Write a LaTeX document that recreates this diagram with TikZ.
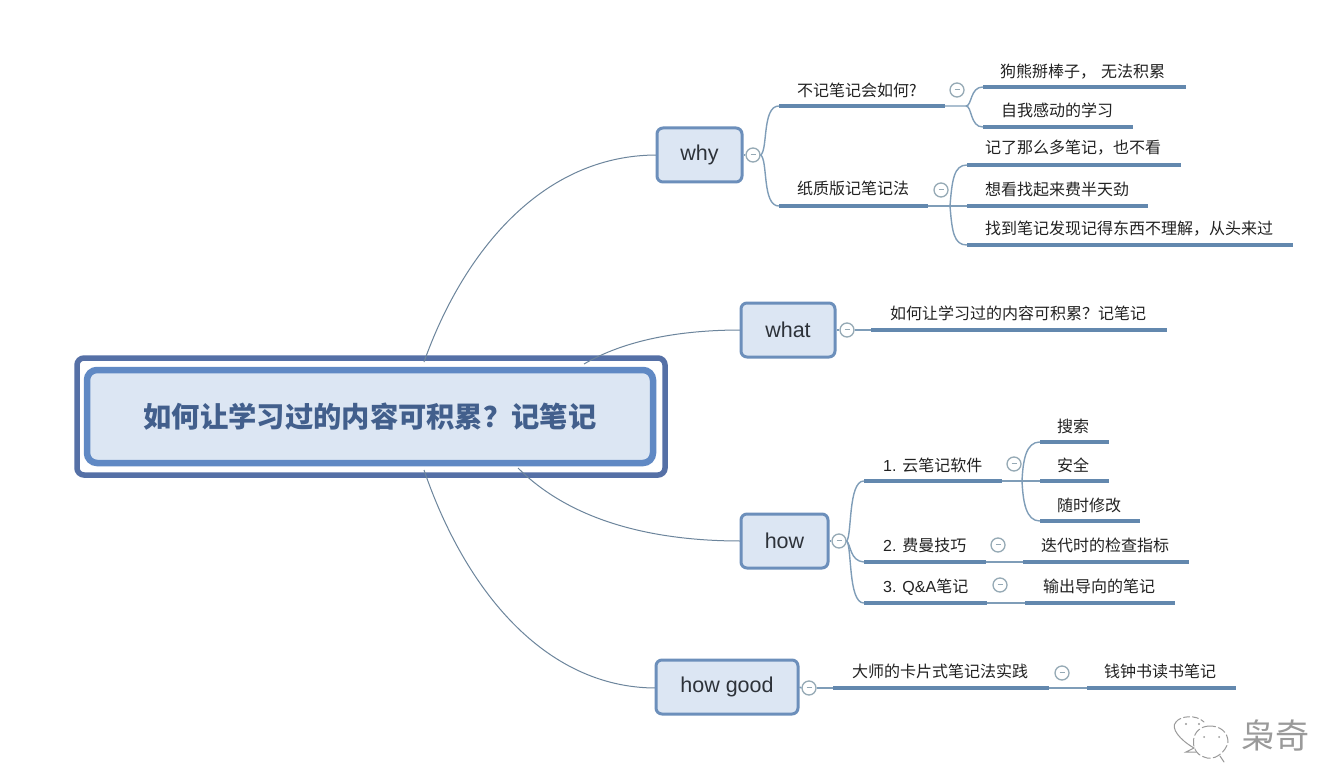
\documentclass[tikz,border=0pt]{standalone}
\usepackage{fontspec}
\setmainfont{Noto Sans CJK SC}
\newfontfamily\latinf{Liberation Sans}
\definecolor{barc}{HTML}{6388AE}
\definecolor{thinc}{HTML}{7F9DB8}
\definecolor{boxs}{HTML}{6C8FBB}
\definecolor{boxf}{HTML}{DCE6F3}
\definecolor{outerc}{HTML}{5570A6}
\definecolor{innerc}{HTML}{6089C4}
\definecolor{titlec}{HTML}{425F8C}
\definecolor{ringc}{HTML}{95A9B5}
\definecolor{inkc}{HTML}{222222}
\definecolor{wmc}{HTML}{9A9A9A}
\tikzset{
  x=1pt,y=-1pt,
  ulbar/.style={draw=none,fill=barc,rectangle,inner sep=0pt,minimum height=4pt},
  lbl/.style={inner sep=0pt,anchor=west,text=inkc,font=\fontsize{16}{18}\selectfont},
  ring/.style={circle,draw=ringc,line width=1.3pt,fill=white,inner sep=0pt,minimum size=14pt,text=ringc,font=\fontsize{6}{6}\selectfont},
  thinline/.style={draw=thinc,line width=1.4pt},
  rootline/.style={draw=thinc!85!black,line width=1pt},
  topicbox/.style={rectangle,rounded corners=6pt,draw=boxs,line width=3pt,fill=boxf,inner sep=0pt,text=inkc!85!boxs,font=\latinf\fontsize{21.5}{24}\selectfont},
  outerbox/.style={rectangle,rounded corners=7pt,draw=outerc,line width=5.5pt,fill=white,inner sep=0pt},
  rootbox/.style={rectangle,rounded corners=10pt,draw=innerc,line width=6.5pt,fill=boxf,inner sep=0pt,text=titlec,font=\bfseries\fontsize{28.3}{32}\selectfont}
}
\newcommand\topicbar[7]{%
  \node[ulbar,minimum width={(#3-#2)*1pt}] (#1) at ({(#2+#3)/2},#4) {};
  \node[lbl] (#1t) at (#5,{#6+0.8}) {#7};}
\newcommand\ringnode[3]{\node[ring] (#1) at (#2,#3) {\rule[0.55ex]{5pt}{0.8pt}};}
\newcommand\mainbox[6]{\node[topicbox,minimum width={(#3-#2)*1pt},minimum height={(#5-#4)*1pt}] (#1) at ({(#2+#3)/2},{(#4+#5)/2}) {\raisebox{-1.5pt}{#6}};}
\begin{document}
\begin{tikzpicture}
\useasboundingbox (0,0) rectangle (1340,778);
\fill[white] (0,0) rectangle (1340,778);

% root connectors (drawn first, the root covers their ends)
\coordinate (whyin) at (657,155);
\coordinate (whatin) at (741,330);
\coordinate (howin) at (741,541);
\coordinate (goodin) at (656,688);

\node[outerbox,minimum width=588pt,minimum height=117pt] (outer) at (371,416.5) {};
\draw[rootline] (424,362) .. controls (462,255) and (540,155) .. (whyin);
\draw[rootline] (584,364) .. controls (625,340) and (680,330) .. (whatin);
\draw[rootline] (518,468) .. controls (570,520) and (650,541) .. (howin);
\draw[rootline] (424,470) .. controls (465,590) and (545,688) .. (goodin);
\node[rootbox,minimum width=566pt,minimum height=93pt] (root) at (370,416.5) {如何让学习过的内容可积累？记笔记};

% main topics
\mainbox{why}{657}{742}{128}{182}{why}
\mainbox{what}{741}{835}{303}{357}{what}
\mainbox{how}{741}{828}{514}{568}{how}
\mainbox{good}{656}{798}{660}{714}{how good}

% why
\topicbar{a}{779}{945}{106}{797}{90}{不记笔记会如何?}
\topicbar{b}{779}{928}{206}{797}{188}{纸质版记笔记法}
\topicbar{a1}{983}{1186}{87}{1000}{71}{狗熊掰棒子，\hspace{5pt}无法积累}
\topicbar{a2}{983}{1133}{127}{1001}{110}{自我感动的学习}
\topicbar{b1}{967}{1181}{165}{985}{147}{记了那么多笔记，也不看}
\topicbar{b2}{967}{1148}{206}{985}{189}{想看找起来费半天劲}
\topicbar{b3}{967}{1293}{245}{985}{228}{找到笔记发现记得东西不理解，从头来过}
\ringnode{rwhy}{753}{155}
\ringnode{ra}{957}{90}
\ringnode{rb}{941}{190}
\draw[thinline] (why.east) -- (rwhy.west);
\draw[thinline] (rwhy.east) .. controls (768,150) and (762,106) .. (a.west);
\draw[thinline] (rwhy.east) .. controls (768,160) and (762,206) .. (b.west);
\draw[thinline] (a.east) -- (966,106) .. controls (972,106) and (970,87) .. (a1.west);
\draw[thinline] (966,106) .. controls (972,106) and (970,127) .. (a2.west);
\draw[thinline] (b.east) -- (b2.west);
\draw[thinline] (950,206) .. controls (952,180) and (954,165) .. (b1.west);
\draw[thinline] (950,206) .. controls (952,232) and (954,245) .. (b3.west);

% what
\topicbar{w1}{871}{1167}{330}{890}{313}{如何让学习过的内容可积累？记笔记}
\ringnode{rwhat}{847}{330}
\draw[thinline] (what.east) -- (rwhat.west);
\draw[thinline] (rwhat.east) -- (w1.west);

% how
\topicbar{h1}{864}{1002}{481}{883}{465}{{\latinf 1. }云笔记软件}
\topicbar{h2}{864}{986}{562}{883}{545}{{\latinf 2. }费曼技巧}
\topicbar{h3}{864}{987}{603}{883}{586}{{\latinf 3. Q\&A}笔记}
\topicbar{s1}{1040}{1109}{442}{1057}{426}{搜索}
\topicbar{s2}{1040}{1109}{481}{1057}{465}{安全}
\topicbar{s3}{1040}{1140}{521}{1057}{505}{随时修改}
\topicbar{t1}{1023}{1189}{562}{1041}{545}{迭代时的检查指标}
\topicbar{u1}{1025}{1175}{603}{1043}{586}{输出导向的笔记}
\ringnode{rhow}{839}{541}
\ringnode{rh1}{1014}{464}
\ringnode{rh2}{998}{545}
\ringnode{rh3}{1000}{585}
\draw[thinline] (how.east) -- (rhow.west);
\draw[thinline] (rhow.east) .. controls (852,536) and (848,481) .. (h1.west);
\draw[thinline] (rhow.east) .. controls (851,545) and (850,561) .. (h2.west);
\draw[thinline] (rhow.east) .. controls (852,546) and (848,603) .. (h3.west);
\draw[thinline] (h1.east) -- (s2.west);
\draw[thinline] (1022,481) .. controls (1023,460) and (1026,442) .. (s1.west);
\draw[thinline] (1022,481) .. controls (1023,502) and (1026,521) .. (s3.west);
\draw[thinline] (h2.east) -- (t1.west);
\draw[thinline] (h3.east) -- (u1.west);

% how good
\topicbar{g1}{833}{1049}{688}{852}{671}{大师的卡片式笔记法实践}
\topicbar{g2}{1087}{1236}{688}{1104}{671}{钱钟书读书笔记}
\ringnode{rgood}{809}{688}
\ringnode{rg1}{1062}{673}
\draw[thinline] (good.east) -- (rgood.west);
\draw[thinline] (rgood.east) -- (g1.west);
\draw[thinline] (g1.east) -- (g2.west);

% watermark
\begin{scope}[draw=wmc,line width=1pt,line cap=round]
  \draw (1194,748) .. controls (1180,740) and (1170,728) .. (1176,722);
  \draw[dash pattern=on 6pt off 3pt] (1176,722) .. controls (1180,716) and (1196,714) .. (1204,722);
  \draw (1194,748) -- (1186,752) -- (1196,752);
  \draw[dash pattern=on 8pt off 3pt] (1210,726) .. controls (1190,726) and (1188,752) .. (1204,757)
     .. controls (1214,762) and (1226,752) .. (1228,742) .. controls (1228,732) and (1220,726) .. (1210,726);
  \draw (1220,756) -- (1224,762);
  \fill[wmc] (1186,724) circle (1.1pt) (1199,724) circle (1.1pt) (1204,737) circle (1pt) (1219,737) circle (1pt);
\end{scope}
\node[inner sep=0pt,anchor=west,text=wmc,font=\fontsize{34}{38}\selectfont] (wm) at (1241,735) {枭奇};
\end{tikzpicture}
\end{document}
